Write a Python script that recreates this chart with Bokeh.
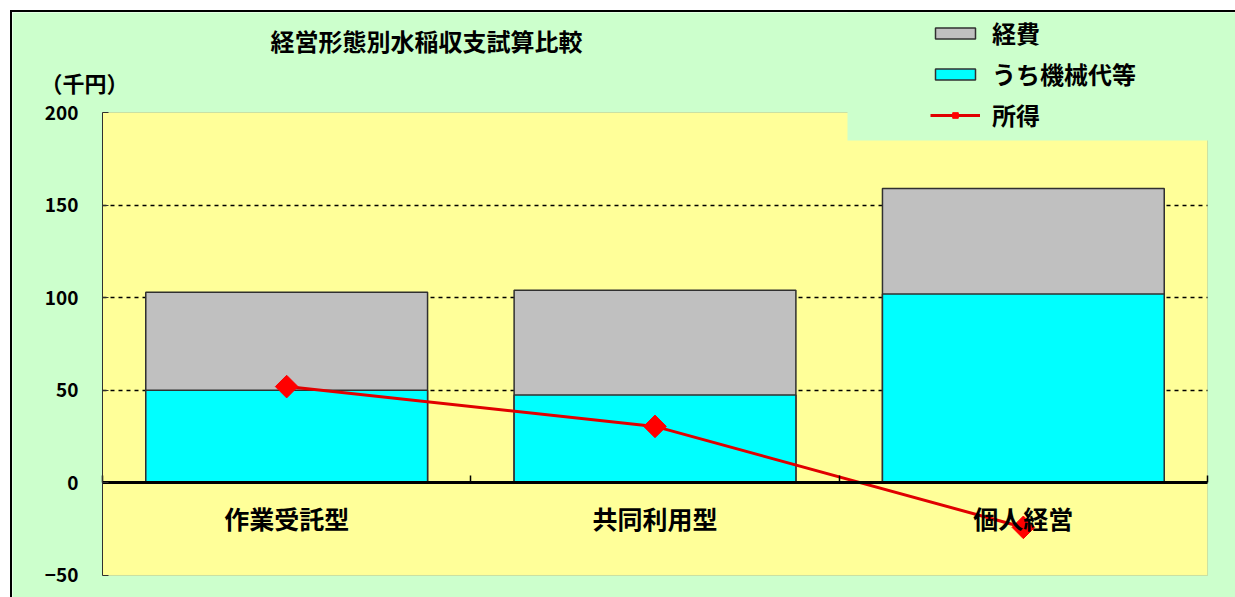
import math
from bokeh.plotting import figure
from bokeh.models import (Range1d, FixedTicker, LinearAxis, Legend, LegendItem, Label,
                          BoxAnnotation, ColumnDataSource)
from bokeh.embed import file_html
from bokeh.resources import INLINE

# ---- data ----
categories = ["作業受託型", "共同利用型", "個人経営"]
keihi = [103, 104, 159]          # 経費
kikai = [50, 47.5, 102]          # うち機械代等
shotoku = [52, 30.5, -24]        # 所得
y_ticks = [-50, 0, 50, 100, 150, 200]
grid_ticks = [50, 100, 150]
y_min, y_max = -50, 200

FONT = "Noto Sans CJK JP"
GREEN = "#CCFFCC"
YELLOW = "#FFFF99"

n = len(categories)
xs = [i + 0.5 for i in range(n)]
bounds = list(range(n + 1))
src = ColumnDataSource(dict(x=xs, cat=categories, keihi=keihi, kikai=kikai, shotoku=shotoku))

# frame covers the whole canvas; plot area (yellow) spans x 0..n, y -50..200
p = figure(width=1225, height=587, x_range=Range1d(-0.24434, 3.0814),
           y_range=Range1d(-62.959, 253.996), output_backend="svg", toolbar_location=None,
           min_border=0, x_axis_location=None, y_axis_location=None)
p.margin = (10, 0, 0, 10)
p.styles = {"border-top": "2px solid #000000", "border-left": "2px solid #000000"}
p.background_fill_color = GREEN
p.border_fill_color = GREEN
p.outline_line_color = None

# plot area
area = BoxAnnotation(left=0, right=n, bottom=y_min, top=y_max, fill_color=YELLOW, fill_alpha=1.0,
                     line_color="#8c9c80", line_width=1, level="image")
p.add_layout(area)

# grid (dashed, limited to plot area)
p.xgrid.visible = False
grid = p.ygrid[0]
grid.ticker = FixedTicker(ticks=grid_ticks)
grid.grid_line_color = "black"
grid.grid_line_dash = "4 4"
grid.grid_line_width = 1.3
try:
    grid.cross_bounds = (0, n)
except Exception:
    grid.visible = False
    p.segment(x0=0, x1=n, y0=grid_ticks, y1=grid_ticks, line_color="black",
              line_dash="4 4", line_width=1.3, level="underlay")

# legend background cover (top-right of plot area)
cover = BoxAnnotation(left=2.0226, bottom=184.9, fill_color=GREEN, fill_alpha=1.0,
                      line_color=None, level="underlay")
p.add_layout(cover)

# y axis
yax = LinearAxis(ticker=FixedTicker(ticks=y_ticks), fixed_location=0, bounds=(y_min, y_max))
yax.major_tick_in = 6
yax.major_tick_out = 0
yax.minor_tick_line_color = None
yax.axis_line_color = "#303030"
yax.major_tick_line_color = "#303030"
yax.major_label_standoff = 24
yax.major_label_text_font = FONT
yax.major_label_text_font_style = "bold"
yax.major_label_text_font_size = "19px"
yax.major_label_text_color = "black"
p.add_layout(yax, "left")

# bars
r_keihi = p.vbar(x="x", top="keihi", bottom=0, width=0.765, source=src,
                 fill_color="#C0C0C0", line_color="#303030", line_width=1.5)
r_kikai = p.vbar(x="x", top="kikai", bottom=0, width=0.765, source=src,
                 fill_color="#00FFFF", line_color="#303030", line_width=1.5)

# category axis at zero
xax = LinearAxis(fixed_location=0, ticker=FixedTicker(ticks=xs), bounds=(0, n),
                 major_label_overrides={x: c for x, c in zip(xs, categories)})
xax.axis_line_color = "black"
xax.axis_line_width = 3
xax.major_tick_line_color = None
xax.minor_tick_line_color = None
xax.major_label_standoff = 11
xax.major_label_text_font = FONT
xax.major_label_text_font_style = "bold"
xax.major_label_text_font_size = "25px"
xax.major_label_text_color = "black"
p.add_layout(xax, "below")

# boundary ticks on zero axis
bax = LinearAxis(fixed_location=0, ticker=FixedTicker(ticks=bounds),
                 major_label_overrides={b: "" for b in bounds})
bax.axis_line_color = None
bax.major_tick_in = 7
bax.major_tick_out = 0
bax.major_tick_line_color = "black"
bax.major_tick_line_width = 1.5
bax.minor_tick_line_color = None
p.add_layout(bax, "below")

# income line
r_line = p.line(x="x", y="shotoku", source=src, line_color="#E00000", line_width=3)
r_mark = p.scatter(x="x", y="shotoku", source=src, marker="square", angle=math.pi / 4,
                   size=16, fill_color="#FF0000", line_color="#FF0000")

legend = Legend(items=[
    LegendItem(label="経費", renderers=[r_keihi]),
    LegendItem(label="うち機械代等", renderers=[r_kikai]),
    LegendItem(label="所得", renderers=[r_line, r_mark]),
], location=(918, 467))
legend.background_fill_alpha = 0
legend.border_line_color = None
legend.padding = 0
legend.margin = 0
legend.glyph_width = 50
legend.glyph_height = 14
legend.label_height = 26
legend.spacing = 6
legend.label_standoff = 12
legend.label_text_font = FONT
legend.label_text_font_style = "bold"
legend.label_text_font_size = "24px"
legend.label_text_color = "black"
p.add_layout(legend)

# titles
main = Label(x=0.4561, y=238.9, text="経営形態別水稲収支試算比較", text_font=FONT,
             text_font_style="bold", text_font_size="24px", text_color="black",
             text_baseline="middle", text_align="left")
p.add_layout(main)
unit = Label(x=-0.168, y=216.2, text="（千円）", text_font=FONT,
             text_font_style="bold", text_font_size="22px", text_color="black",
             text_baseline="middle", text_align="left")
p.add_layout(unit)

open("out.html", "w").write(file_html(p, INLINE))
